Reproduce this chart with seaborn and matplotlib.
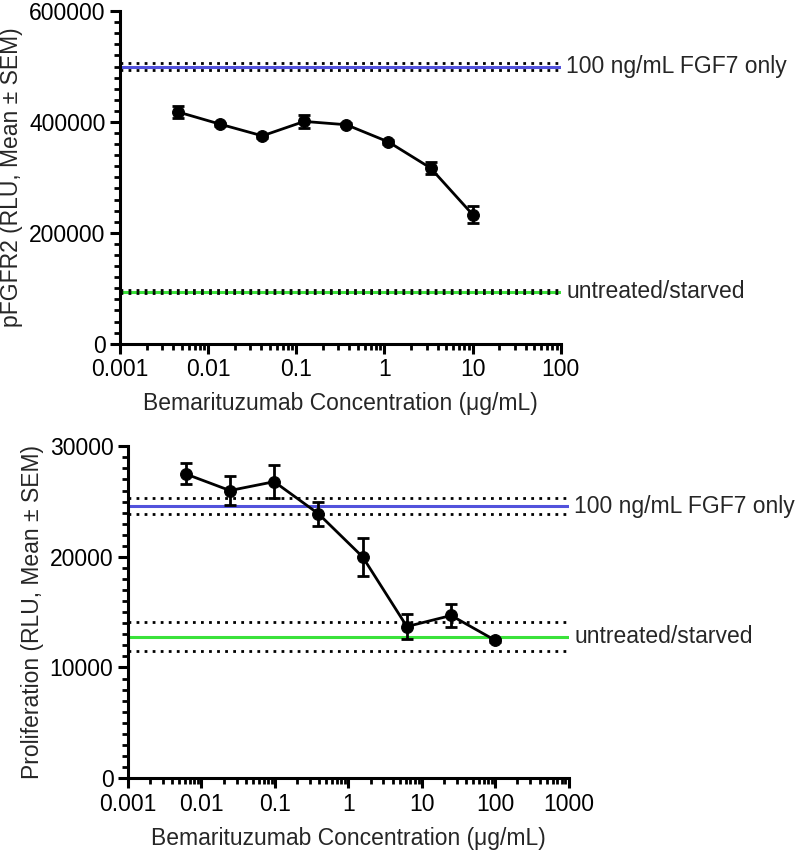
import numpy as np
import pandas as pd
import matplotlib
matplotlib.use("Agg")
import matplotlib.pyplot as plt
import seaborn as sns
from matplotlib.ticker import LogLocator, MultipleLocator, FuncFormatter

sns.set_style("ticks")
plt.rcParams['font.family'] = ['Liberation Sans', 'DejaVu Sans']

# --- data: pFGFR2 (3-fold dilution) ---
conc_p = [0.00457, 0.0137, 0.0412, 0.123, 0.370, 1.11, 3.33, 10.0]
mean_p = [418000, 396000, 375000, 401000, 395000, 364000, 317000, 233000]
sem_p = [10000, 3000, 3000, 11000, 3000, 3000, 11000, 16000]
fgf7_p = 500000
fgf7_p_sem = 7000
starved_p = 94000
starved_p_sem = 2000

# --- data: proliferation (4-fold dilution) ---
conc_r = [0.0061, 0.0244, 0.0977, 0.391, 1.5625, 6.25, 25.0, 100.0]
mean_r = [27500, 26000, 26800, 23900, 20000, 13700, 14700, 12450]
sem_r = [950, 1300, 1500, 1100, 1700, 1150, 1050, 150]
fgf7_r = 24600
fgf7_r_sem = 740
starved_r = 12800
starved_r_sem = 1300

BLUE = '#5252dc'
GREEN = '#3ae23a'
FS = 16.5
DOT = (0, (1, 1.9))


def draw_panel(ax, conc, mean, sem, fgf7, fgf7_sem, starved, starved_sem,
               xlim, ylim, ymajor, yminor, ylabel):
    df = pd.DataFrame({'conc': conc, 'mean': mean})
    # reference bands (mean line + dotted SEM lines)
    for val, err, col in [(fgf7, fgf7_sem, BLUE), (starved, starved_sem, GREEN)]:
        ax.axhline(val, color=col, lw=2.2, zorder=1)
        ax.axhline(val + err, color='black', lw=2, ls=DOT, zorder=1)
        ax.axhline(val - err, color='black', lw=2, ls=DOT, zorder=1)
    ax.errorbar(conc, mean, yerr=sem, fmt='none', ecolor='black',
                elinewidth=2, capsize=4.5, capthick=2, zorder=3)
    sns.lineplot(data=df, x='conc', y='mean', ax=ax, color='black', lw=2,
                 marker='o', markersize=8.5, markeredgecolor='black', zorder=4)

    ax.set_xscale('log')
    ax.set_xlim(*xlim)
    ax.set_ylim(*ylim)
    ax.xaxis.set_major_locator(LogLocator(base=10, numticks=12))
    ax.xaxis.set_minor_locator(LogLocator(base=10, subs=np.arange(2, 10), numticks=12))
    ax.xaxis.set_major_formatter(FuncFormatter(lambda v, p: f'{v:g}'))
    ax.yaxis.set_major_locator(MultipleLocator(ymajor))
    ax.yaxis.set_minor_locator(MultipleLocator(yminor))
    ax.yaxis.set_major_formatter(FuncFormatter(lambda v, p: f'{v:.0f}'))

    for s in ['top', 'right']:
        ax.spines[s].set_visible(False)
    for s in ['left', 'bottom']:
        ax.spines[s].set_linewidth(2.2)
        ax.spines[s].set_color('black')
    ax.tick_params(which='major', length=7, width=2.2, labelsize=FS, colors='black')
    ax.tick_params(which='minor', length=4, width=2, colors='black')
    ax.set_xlabel('Bemarituzumab Concentration (\u03bcg/mL)', fontsize=FS, labelpad=8)
    ax.set_ylabel(ylabel, fontsize=FS, labelpad=4)

    ax.text(1.012, fgf7, '100 ng/mL FGF7 only', transform=ax.get_yaxis_transform(),
            fontsize=FS, va='center', ha='left')
    ax.text(1.012, starved, 'untreated/starved', transform=ax.get_yaxis_transform(),
            fontsize=FS, va='center', ha='left')


fig = plt.figure(figsize=(8, 8.55), dpi=100)
ax1 = fig.add_axes([0.150, 0.598, 0.551, 0.389])
ax2 = fig.add_axes([0.160, 0.090, 0.551, 0.388])

draw_panel(ax1, conc_p, mean_p, sem_p, fgf7_p, fgf7_p_sem, starved_p, starved_p_sem,
           (0.001, 100), (0, 600000), 200000, 20000,
           'pFGFR2 (RLU, Mean \u00b1 SEM)')
draw_panel(ax2, conc_r, mean_r, sem_r, fgf7_r, fgf7_r_sem, starved_r, starved_r_sem,
           (0.001, 1000), (0, 30000), 10000, 1000,
           'Proliferation (RLU, Mean \u00b1 SEM)')

fig.savefig('out.png', dpi=100)
